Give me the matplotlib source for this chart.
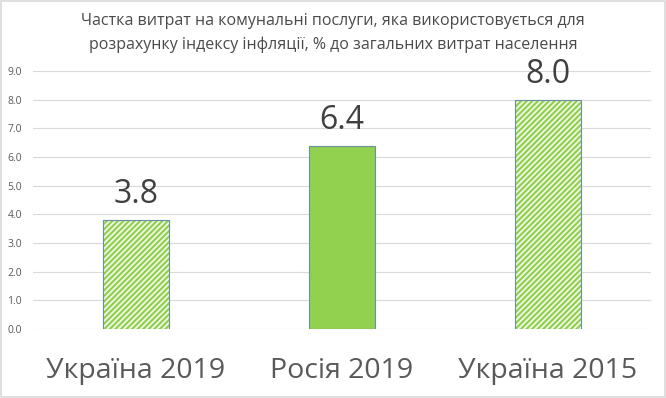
import matplotlib.pyplot as plt
import numpy as np

plt.rcParams['font.family'] = ['Open Sans', 'DejaVu Sans']
plt.rcParams['hatch.linewidth'] = 1.6

categories = ['Україна 2019', 'Росія 2019', 'Україна 2015']
values = [3.8, 6.4, 8.0]
hatched = [True, False, True]
title = ('Частка витрат на комунальні послуги, яка використовується для\n'
         'розрахунку індексу інфляції, % до загальних витрат населення')

green = '#92d050'
edge = '#6a8fa3'
grey = '#595959'

fig = plt.figure(figsize=(6.66, 3.98), dpi=100)
ax = fig.add_axes([0.0495, 0.1734, 0.9275, 0.6482])

x = np.arange(len(categories))
w = 0.32
for xi, v, h in zip(x, values, hatched):
    if h:
        ax.bar(xi, v, w, color='#f4f9ec', edgecolor=green, hatch='//////', linewidth=0, zorder=2)
        ax.bar(xi, v, w, color='none', edgecolor=edge, linewidth=0.8, zorder=3)
    else:
        ax.bar(xi, v, w, color=green, edgecolor=edge, linewidth=0.8, zorder=3)
    ax.text(xi, v + 0.3, f'{v:.1f}', ha='center', va='bottom', fontsize=23, color='#404040')

ax.set_xlim(-0.5, 2.5)
ax.set_ylim(0, 9)
ax.set_yticks(np.arange(0, 9.1, 1.0))
ax.set_yticklabels([f'{t:.1f}' for t in np.arange(0, 9.1, 1.0)], fontsize=7.5, color=grey)
ax.set_xticks(x)
ax.set_xticklabels(categories, fontsize=20.5, color=grey)
ax.grid(axis='y', color='#d9d9d9', linewidth=0.8, zorder=0)
ax.tick_params(axis='x', length=0, pad=20)
ax.tick_params(axis='y', length=0, pad=8)
for s in ax.spines.values():
    s.set_visible(False)

fig.text(0.5, 0.968, title, ha='center', va='top', fontsize=11.5, color='#4a4a4a', linespacing=1.65)

fig.patches.append(plt.Rectangle((0.001, 0.002), 0.997, 0.995, transform=fig.transFigure,
                                 fill=False, edgecolor='#d9d9d9', linewidth=1.2))

fig.savefig('out.png', dpi=100)
